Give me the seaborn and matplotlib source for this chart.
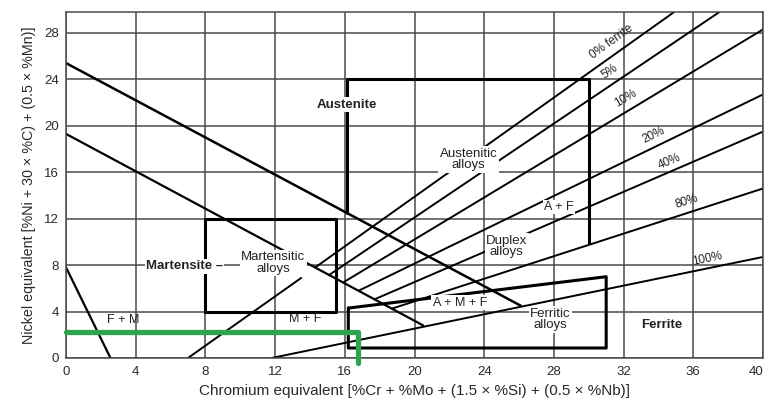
import matplotlib
matplotlib.use("Agg")
import matplotlib.pyplot as plt
import seaborn as sns
import numpy as np
import pandas as pd

# ---------------- data (Cr equivalent, Ni equivalent) ----------------
x_ticks = [0, 4, 8, 12, 16, 20, 24, 28, 32, 36, 40]
y_ticks = [0, 4, 8, 12, 16, 20, 24, 28]

# phase-boundary lines
a_am_cr = [0, 26.1]          # upper descending line
a_am_ni = [25.4, 4.5]
m_am_cr = [0, 20.5]          # lower descending line
m_am_ni = [19.3, 2.8]
fm_cr = [0, 2.55]            # F+M boundary
fm_ni = [7.8, 0]
mmf_cr = [7.0, 13.5]         # M / M+F boundary
mmf_ni = [0, 6.9]

# iso-ferrite lines
ferrite_labels = ["0% ferrite", "5%", "10%", "20%", "40%", "80%", "100%"]
ferrite_cr_start = [14.3, 15.1, 15.9, 16.8, 17.7, 18.7, 11.8]
ferrite_ni_start = [7.8, 7.15, 6.5, 5.8, 5.05, 4.25, 0.0]
ferrite_cr_end = [34.9, 37.5, 40.0, 40.0, 40.0, 40.0, 40.0]
ferrite_ni_end = [29.8, 29.8, 28.3, 22.7, 19.5, 14.6, 8.7]
ferrite_lab_cr = [31.3, 31.2, 32.1, 33.7, 34.6, 35.6, 36.8]
ferrite_lab_ni = [27.2, 24.7, 22.4, 19.2, 16.9, 13.5, 8.5]
ferrite_lab_rot = [36, 35, 31, 26, 23, 18, 12]

# alloy boxes
mart_box_cr = [8, 15.5, 15.5, 8, 8]
mart_box_ni = [4, 4, 12, 12, 4]
aust_box_cr = [16.1, 16.1, 30.0, 30.0]
aust_box_ni = [12.5, 24.0, 24.0, 9.9]
ferr_box_cr = [16.2, 16.2, 31.0, 31.0, 16.2]
ferr_box_ni = [4.3, 0.86, 0.86, 7.0, 4.3]

# highlighted composition (green marker)
green_cr = [0, 16.75, 16.75]
green_ni = [2.25, 2.25, -0.4]

# ---------------- figure ----------------
sns.set_theme(style="white")
plt.rcParams["font.family"] = ["Liberation Sans", "DejaVu Sans"]

fig = plt.figure(figsize=(7.66, 4.03), dpi=100)
ax = fig.add_axes([0.0862, 0.1117, 0.9099, 0.8585])
ax.set_xlim(0, 40)
ax.set_ylim(0, 29.8)
ax.set_xticks(x_ticks)
ax.set_yticks(y_ticks)
ax.tick_params(axis="both", length=0, labelsize=9.5, colors="#2a2a2a")
ax.tick_params(axis="x", pad=6)
ax.tick_params(axis="y", pad=5)
ax.get_xticklabels()[-1].set_horizontalalignment("right")
ax.grid(True, color="#4a4a4a", lw=1.1)
ax.set_axisbelow(True)
for s in ax.spines.values():
    s.set_color("#4a4a4a")
    s.set_linewidth(1.1)


def seg(xs, ys, lw=1.5, color="black", **kw):
    sns.lineplot(x=xs, y=ys, sort=False, estimator=None, color=color,
                 lw=lw, ax=ax, legend=False, **kw)


seg(a_am_cr, a_am_ni, lw=1.8)
seg(m_am_cr, m_am_ni, lw=1.6)
seg(fm_cr, fm_ni, lw=1.6)
seg(mmf_cr, mmf_ni, lw=1.4)
for i in range(len(ferrite_labels)):
    seg([ferrite_cr_start[i], ferrite_cr_end[i]],
        [ferrite_ni_start[i], ferrite_ni_end[i]], lw=1.4)
    ax.text(ferrite_lab_cr[i], ferrite_lab_ni[i], ferrite_labels[i],
            rotation=ferrite_lab_rot[i], ha="center", va="center",
            fontsize=8.5, color="#222222", rotation_mode="anchor")

seg(mart_box_cr, mart_box_ni, lw=2.2)
seg(aust_box_cr, aust_box_ni, lw=2.2)
seg(ferr_box_cr, ferr_box_ni, lw=2.2)

wb = dict(facecolor="white", edgecolor="none", pad=1.0)
txt = dict(ha="center", va="center", color="#222222")
ax.text(16.1, 21.8, "Austenite", fontsize=9.5, fontweight="bold", bbox=wb, **txt)
ax.text(6.8, 7.9, "Martensite \u2013", fontsize=9.5, fontweight="bold", bbox=wb, **txt)
ax.text(34.2, 2.85, "Ferrite", fontsize=9.5, fontweight="bold", **txt)
ax.text(11.9, 8.2, "Martensitic\nalloys", fontsize=9.5, linespacing=0.95, bbox=wb, **txt)
ax.text(23.1, 17.1, "Austenitic\nalloys", fontsize=9.5, linespacing=0.95, bbox=wb, **txt)
ax.text(25.3, 9.6, "Duplex\nalloys", fontsize=9.5, linespacing=0.95, bbox=wb, **txt)
ax.text(27.8, 3.3, "Ferritic\nalloys", fontsize=9.5, linespacing=0.95, bbox=wb, **txt)
ax.text(28.3, 13.0, "A + F", fontsize=9, bbox=wb, **txt)
ax.text(22.6, 4.75, "A + M + F", fontsize=9, bbox=wb, **txt)
ax.text(13.7, 3.35, "M + F", fontsize=9, **txt)
ax.text(3.3, 3.3, "F + M", fontsize=9, **txt)

seg(green_cr, green_ni, lw=3.8, color="#2ea44f", clip_on=False, zorder=6)

ax.set_xlabel("Chromium equivalent [%Cr + %Mo + (1.5 \u00d7 %Si) + (0.5 \u00d7 %Nb)]",
              fontsize=11, color="#2a2a2a", labelpad=4)
ax.set_ylabel("Nickel equivalent [%Ni + 30 \u00d7 %C) + (0.5 \u00d7 %Mn)]",
              fontsize=10.3, color="#2a2a2a", labelpad=6)

fig.savefig("out.png", dpi=100)
